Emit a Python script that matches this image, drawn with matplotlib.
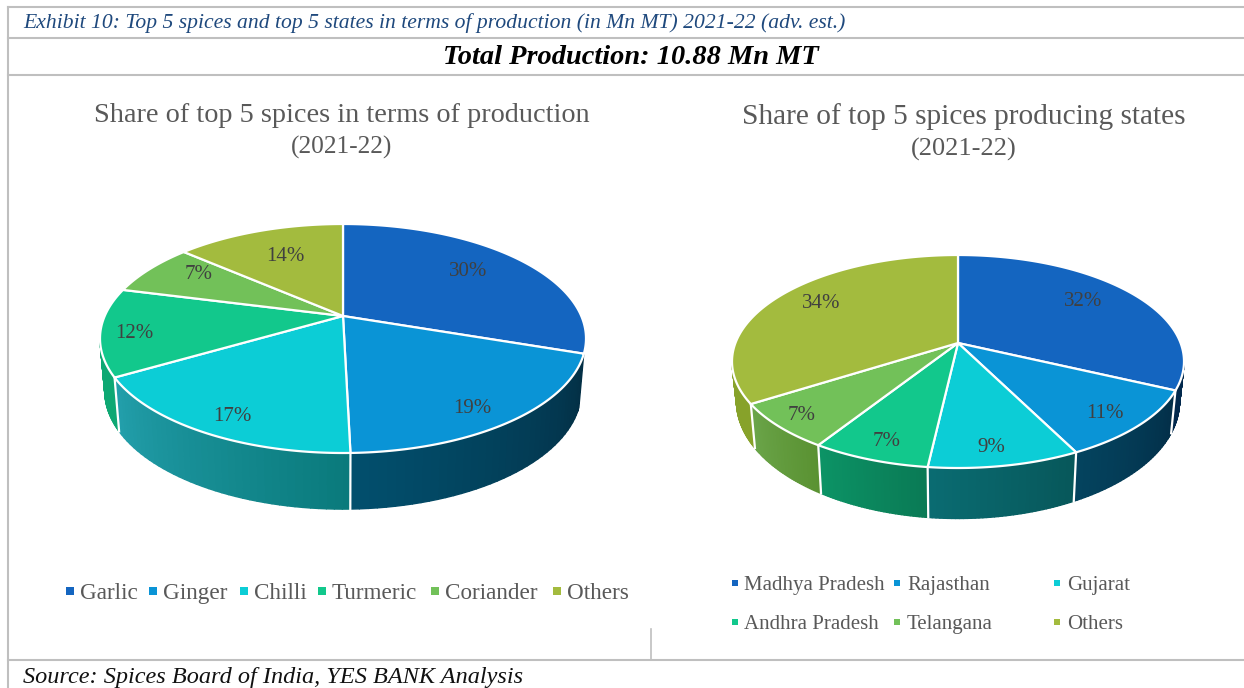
import numpy as np
import matplotlib
matplotlib.use('Agg')
import matplotlib.pyplot as plt
from matplotlib.collections import PolyCollection
from matplotlib.colors import to_rgb

plt.rcParams['font.family'] = ['Liberation Serif', 'DejaVu Serif']

# Chart data
spices = ['Garlic', 'Ginger', 'Chilli', 'Turmeric', 'Coriander', 'Others']
spice_share = [30.2, 19.4, 17.0, 12.4, 7.4, 13.6]
states = ['Madhya Pradesh', 'Rajasthan', 'Gujarat', 'Andhra Pradesh', 'Telangana', 'Others']
state_share = [32.0, 10.6, 9.2, 7.2, 7.0, 34.0]

# Colours
top_colors = ['#1465c0', '#0a94d6', '#0ccdd6', '#12c88c', '#72c159', '#a3bb3e']
spice_walls = [('#08305c', '#08305c'), ('#032f45', '#02506e'), ('#0a7a7c', '#23a0ac'),
               ('#0ea873', '#0ea873'), ('#6ba54a', '#6ba54a'), ('#87a22a', '#87a22a')]
state_walls = [('#02294d', '#02294d'), ('#032e48', '#04445f'), ('#07575a', '#0a6c72'),
               ('#0a7a55', '#0c9466'), ('#5a9232', '#6ba54a'), ('#87a22a', '#87a22a')]
GRID = '#bfbfbf'
TITLE = '#595959'
LABEL = '#404040'


def project(theta, rx, back, front):
  """ Maps clockwise-from-top angles on the pie rim to the tilted, perspective ellipse.

  Args:
    theta: rim angles in radians
    rx: half the width of the ellipse
    back: pixels from the centre to the back of the rim
    front: pixels from the centre to the front of the rim

  Returns:
    X, Y: offsets from the pie centre
  """
  k = (front - back) / (front + back)
  u, v = np.sin(theta), -np.cos(theta)
  d = 1 - k * v
  return rx * np.sqrt(1 - k * k) * u / d, back * (1 + k) * v / d


def draw_pie(ax, values, walls, apex, rx, back, front, sy, drop, wall_start):
  edges = np.radians(np.concatenate(([0], np.cumsum(values))) / np.sum(values) * 360)
  k = (front - back) / (front + back)
  seen_from, seen_to = np.radians(wall_start), 3 * np.pi / 2 - np.arcsin(k)

  # side walls first, the top faces go over them
  for i in range(len(values)):
    a, b = max(edges[i], seen_from), min(edges[i + 1], seen_to)
    if b <= a:
      continue
    t = np.linspace(a, b, 40)
    X, Y = project(t, rx, back, front)
    x0, y0 = apex[0] + X, apex[1] + Y
    x1, y1 = apex[0] + X * 0.98, apex[1] + Y * sy + drop
    quads = [[(x0[j], y0[j]), (x0[j + 1], y0[j + 1]), (x1[j + 1], y1[j + 1]), (x1[j], y1[j])]
             for j in range(len(t) - 1)]
    c0, c1 = np.array(to_rgb(walls[i][0])), np.array(to_rgb(walls[i][1]))
    f = (t[:-1] - edges[i]) / (edges[i + 1] - edges[i])
    cols = [c0 + (c1 - c0) * q for q in f]
    ax.add_collection(PolyCollection(quads, facecolors=cols, edgecolors=cols, linewidths=1.0, zorder=2))
    # white divider at the end of the slice
    if edges[i + 1] < seen_to:
      ax.plot([x0[-1], x1[-1]], [y0[-1], y1[-1]], color='white', lw=1.6, zorder=3)

  for i in range(len(values)):
    t = np.linspace(edges[i], edges[i + 1], 120)
    X, Y = project(t, rx, back, front)
    px = np.concatenate(([apex[0]], apex[0] + X))
    py = np.concatenate(([apex[1]], apex[1] + Y))
    ax.fill(px, py, facecolor=top_colors[i], edgecolor='white', lw=1.6, joinstyle='round', zorder=4)


def draw_labels(ax, values, spots):
  for v, (x, y) in zip(values, spots):
    ax.text(x, y, '%d%%' % round(v), color=LABEL, fontsize=15, ha='center', va='center_baseline', zorder=5)


def draw_legend(ax, names, spots, size, fontsize):
  for i, (name, (mx, tx, y)) in enumerate(zip(names, spots)):
    ax.scatter([mx], [y], marker='s', s=size, color=top_colors[i], linewidths=0, zorder=5)
    ax.text(tx, y, name, color=TITLE, fontsize=fontsize, ha='left', va='center_baseline', zorder=5)


fig = plt.figure(figsize=(12.44, 6.88), dpi=100)
ax = fig.add_axes([0, 0, 1, 1])
ax.set_xlim(0, 1244)
ax.set_ylim(688, 0)
ax.axis('off')

# table frame
for y in [7, 38, 75, 660]:
  ax.plot([8, 1244], [y, y], color=GRID, lw=1.5, zorder=1)
ax.plot([8, 8], [7, 688], color=GRID, lw=1.5, zorder=1)
ax.plot([651, 651], [629, 660], color=GRID, lw=1.2, zorder=1)

ax.text(23, 21, 'Exhibit 10: Top 5 spices and top 5 states in terms of production (in Mn MT) 2021-22 (adv. est.)',
        color='#1f497d', style='italic', fontsize=15.6, ha='left', va='center_baseline')
ax.text(631, 55, 'Total Production: 10.88 Mn MT', color='black', style='italic', weight='bold',
        fontsize=20.4, ha='center', va='center_baseline')
ax.text(23, 675, 'Source: Spices Board of India, YES BANK Analysis', color='#111111', style='italic',
        fontsize=17.5, ha='left', va='center_baseline')

ax.text(342, 113, 'Share of top 5 spices in terms of production', color=TITLE, fontsize=20.3, ha='center', va='center_baseline')
ax.text(342, 145, '(2021-22)', color=TITLE, fontsize=18.3, ha='center', va='center_baseline')
ax.text(964, 114, 'Share of top 5 spices producing states', color=TITLE, fontsize=21.2, ha='center', va='center_baseline')
ax.text(964, 147, '(2021-22)', color=TITLE, fontsize=19, ha='center', va='center_baseline')

draw_pie(ax, spice_share, spice_walls, (343, 316), 243, 92, 137, 1.03, 52, 109)
draw_pie(ax, state_share, state_walls, (958, 343), 226, 88, 125, 1.10, 38, 101)

draw_labels(ax, spice_share, [(468, 269), (472, 406), (232, 414), (134, 331), (199, 272), (285, 254)])
draw_labels(ax, state_share, [(1083, 299), (1105, 411), (991, 445), (887, 439), (802, 413), (821, 301)])

draw_legend(ax, spices, [(70, 80, 591), (153, 163, 591), (244, 254, 591),
                         (322, 332, 591), (435, 445, 591), (557, 567, 591)], 36, 16.7)
draw_legend(ax, states, [(735, 744, 583), (897, 907, 583), (1057, 1067, 583),
                         (735, 744, 622), (897, 907, 622), (1057, 1067, 622)], 20, 15)

fig.savefig('out.png', dpi=100)
